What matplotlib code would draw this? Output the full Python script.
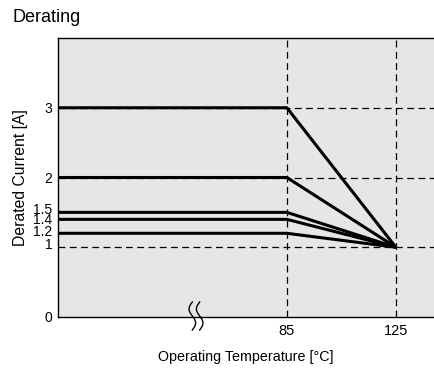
import numpy as np
import matplotlib
matplotlib.use('Agg')
import matplotlib.pyplot as plt
import matplotlib.transforms as mtransforms

plt.rcParams['font.family'] = ['Liberation Sans', 'DejaVu Sans']

# derating curves: flat up to 85 degC, then linear down to 1 A at 125 degC
ratings = [3, 2, 1.5, 1.4, 1.2]
knee_temp = 85
end_temp = 125
end_current = 1
start_temp = 1

yticks = [0, 1, 1.2, 1.4, 1.5, 2, 3]
ytick_labels = ['0', '1', '1.2', '1.4', '1.5', '2', '3']
# the crowded labels are nudged up a little in the original (pixels)
ytick_nudge = [0, 4, 3, 1, 4, 0, 0]
xticks = [85, 125]
xtick_labels = ['85', '125']

fig = plt.figure(figsize=(4.34, 3.69), dpi=100)
ax = fig.add_axes([58 / 434, 1 - 317 / 369, 1 - 58 / 434, (317 - 38) / 369])
ax.set_facecolor('#e6e6e6')

ax.set_xlim(start_temp, 139)
ax.set_ylim(0, 4)

dash = (0, (5.5, 3.5))
for x in xticks:
    ax.axvline(x, color='black', lw=0.9, ls=dash, zorder=1)
for y in [1, 2, 3]:
    ax.axhline(y, color='black', lw=0.9, ls=dash, zorder=1)

for r in ratings:
    ax.plot([start_temp, knee_temp, end_temp], [r, r, end_current],
            color='black', lw=2.2, solid_capstyle='butt', zorder=3)

ax.set_xticks(xticks)
ax.set_xticklabels(xtick_labels)
ax.set_yticks(yticks)
ax.set_yticklabels(ytick_labels)
ax.tick_params(length=0, labelsize=10.5)
ax.tick_params(axis='x', pad=5)
ax.tick_params(axis='y', pad=4, labelsize=10)
for lab, dy in zip(ax.get_yticklabels(), ytick_nudge):
    lab.set_transform(lab.get_transform() +
                      mtransforms.ScaledTranslation(0, dy / 100, fig.dpi_scale_trans))

ax.spines['right'].set_visible(False)
for side in ['left', 'top', 'bottom']:
    ax.spines[side].set_linewidth(1.0)

ax.set_xlabel('Operating Temperature [°C]', fontsize=10.3, labelpad=9)
ax.set_ylabel('Derated Current [A]', fontsize=11.3, labelpad=4)

# axis break mark
trans = mtransforms.blended_transform_factory(ax.transData, fig.transFigure)
s = np.linspace(0, 1, 60)
for x0 in [50.3, 53.0]:
    xs = x0 - 1.2 * np.sin(2 * np.pi * s)
    ys = (1 - 302 / 369) - s * 28 / 369
    ax.plot(xs, ys, color='black', lw=1.0, transform=trans, clip_on=False)

fig.text(12 / 434, 1 - 17 / 369, 'Derating', fontsize=13, va='center', ha='left')

fig.savefig('out.png', dpi=100)
